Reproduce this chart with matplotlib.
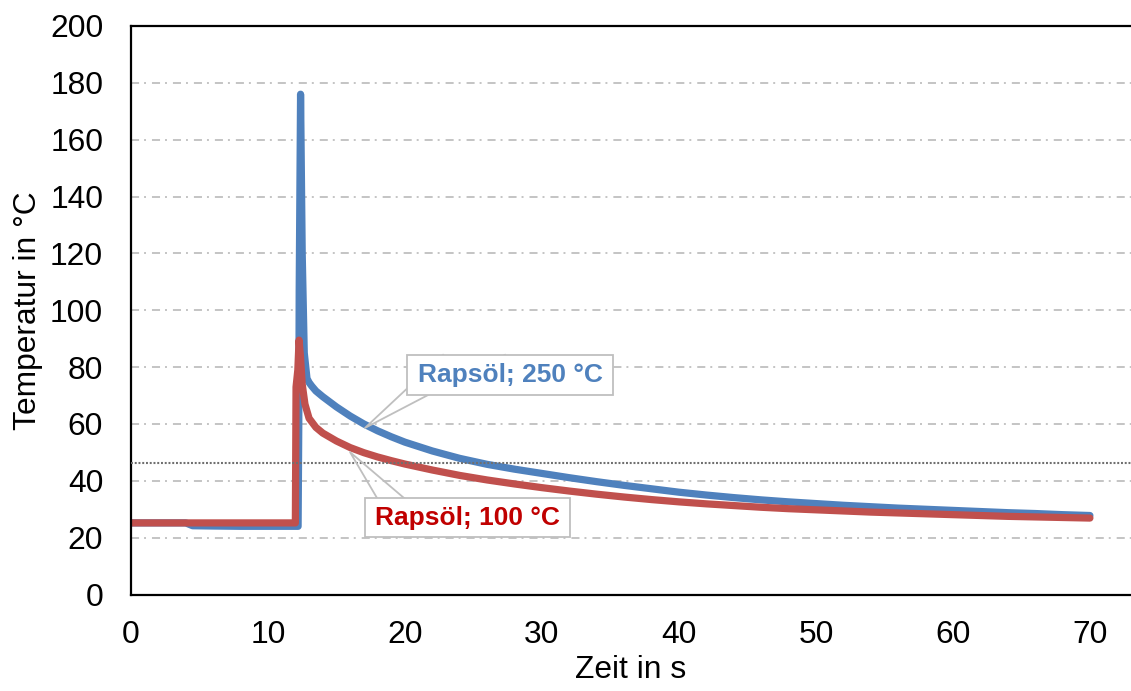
import matplotlib.pyplot as plt
from matplotlib.patches import Rectangle

plt.rcParams['font.family'] = ['Liberation Sans', 'DejaVu Sans']
plt.rcParams['lines.scale_dashes'] = False

# Temperaturverlauf Rapsöl 250 °C
zeit_250 = [0, 2, 4, 4.5, 6, 8, 10, 12.2, 12.25, 12.28, 12.38, 12.5, 12.65, 12.85,
            13.0, 13.2, 13.5, 14, 15, 16, 17, 18, 19, 20, 22, 24, 26, 28, 30, 32,
            34, 36, 38, 40, 42, 44, 46, 48, 50, 52, 54, 56, 58, 60, 62, 64, 66, 68, 70]
temp_250 = [25.2, 25.2, 25.2, 24.2, 24.1, 24.0, 24.0, 24.0, 60, 107, 176, 120, 85, 76,
            74.6, 73.3, 71.6, 69.6, 66.0, 62.8, 60.0, 57.6, 55.5, 53.6, 50.5, 47.9,
            45.8, 44.1, 42.6, 41.1, 39.7, 38.4, 37.2, 36.0, 35.0, 34.1, 33.3, 32.6,
            32.0, 31.4, 30.9, 30.4, 30.0, 29.6, 29.2, 28.8, 28.5, 28.1, 27.8]

# Temperaturverlauf Rapsöl 100 °C
zeit_100 = [0, 4, 8, 12.0, 12.05, 12.18, 12.27, 12.37, 12.5, 12.7, 13.0, 13.5, 14,
            15, 16, 17, 18, 19, 20, 22, 24, 26, 28, 30, 32, 34, 36, 38, 40, 42, 44,
            46, 48, 50, 52, 54, 56, 58, 60, 62, 64, 66, 68, 70]
temp_100 = [25.2, 25.2, 25.2, 25.2, 73, 79, 89.5, 84, 74, 67, 62, 58.8, 56.8,
            54.0, 51.7, 49.9, 48.4, 47.1, 45.9, 43.8, 41.9, 40.3, 38.9, 37.6, 36.4,
            35.3, 34.3, 33.4, 32.6, 31.9, 31.3, 30.7, 30.2, 29.8, 29.4, 29.0, 28.7,
            28.4, 28.1, 27.8, 27.5, 27.3, 27.1, 26.9]

grenze = 46.3
x_ticks = [0, 10, 20, 30, 40, 50, 60, 70]
y_ticks = [0, 20, 40, 60, 80, 100, 120, 140, 160, 180, 200]

blau = '#4F81BD'
rot = '#C0504D'
grau = '#BFBFBF'

fig = plt.figure(figsize=(11.31, 6.91), dpi=100)
ax = fig.add_axes([0.1158, 0.1396, 0.8842, 0.8228])

for y in y_ticks[1:-1]:
    ax.axhline(y, color=grau, lw=1.3, ls=(0, (5.8, 3.6, 1.4, 4.3)), zorder=1)

ax.plot(zeit_250, temp_250, color=blau, lw=5.2, solid_joinstyle='round',
        solid_capstyle='round', zorder=2)
ax.plot(zeit_100, temp_100, color=rot, lw=5.2, solid_joinstyle='round',
        solid_capstyle='round', zorder=2)
ax.axhline(grenze, color='#6F6F6F', lw=1.5, ls=(0, (1.4, 1.3)), zorder=3)

# Beschriftungen mit Zeigerlinien
labels = [
    ('Rapsöl; 250 °C', blau, (20.15, 70.2, 15.03, 14.1), (17.08, 58.6), (22.78, 27.3)),
    ('Rapsöl; 100 °C', '#C00000', (17.08, 20.2, 14.97, 13.7), (15.99, 50.1), (19.64, 23.29)),
]
for text, farbe, (bx, by, bw, bh), (px, py), (x1, x2) in labels:
    kante = by + bh if py < by else by
    ax.plot([x1, px, x2], [kante, py, kante], color=grau, lw=1.3, zorder=4)
    ax.add_patch(Rectangle((bx, by), bw, bh, fc='white', ec=grau, lw=1.3, zorder=5))
    ax.text(bx + bw / 2, by + bh / 2, text, color=farbe, fontsize=19,
            fontweight='bold', ha='center', va='center', zorder=6)

ax.set_xlim(0, 73)
ax.set_ylim(0, 200)
ax.set_xticks(x_ticks)
ax.set_yticks(y_ticks)
ax.tick_params(axis='both', length=0, labelsize=22.9)
ax.tick_params(axis='x', pad=18)
ax.tick_params(axis='y', pad=20)
ax.set_xlabel('Zeit in s', fontsize=22.9, labelpad=4)
ax.set_ylabel('Temperatur in °C', fontsize=22.9, labelpad=5)

for side in ['left', 'bottom', 'top']:
    ax.spines[side].set_linewidth(1.6)
    ax.spines[side].set_color('black')
ax.spines['right'].set_visible(False)

plt.savefig('out.png', dpi=100)
